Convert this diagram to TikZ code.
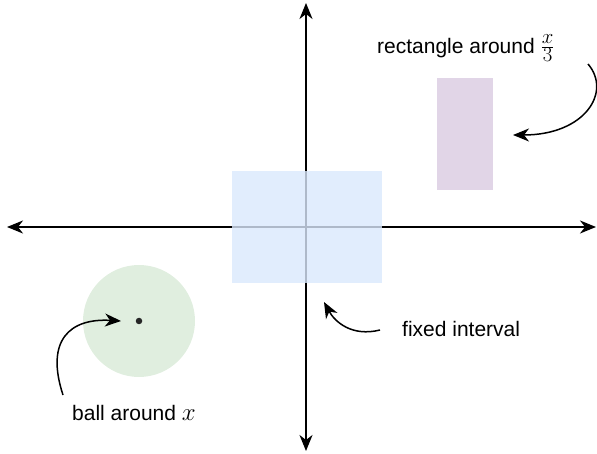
\documentclass[tikz,border=0pt]{standalone}
\usepackage{fontspec}
\setmainfont{Liberation Sans}
\usetikzlibrary{arrows.meta}
\definecolor{bluefill}{HTML}{DAE8FC}
\definecolor{purplefill}{HTML}{E1D5E7}
\definecolor{greenfill}{HTML}{D5E8D4}
\begin{document}
\begin{tikzpicture}[x=1pt,y=-1pt,
  axis/.style={line width=1.8pt,{Stealth[length=16pt,width=13pt,inset=5pt]}-{Stealth[length=16pt,width=13pt,inset=5pt]}},
  callout/.style={line width=1.5pt,-{Stealth[length=16pt,width=13pt,inset=5pt]}},
  lbl/.style={inner sep=0pt,anchor=west,font=\fontsize{21}{25}\selectfont},
  region/.style={draw=none,fill opacity=0.8}]
\useasboundingbox (0,0) rectangle (597,454);
% axes
\coordinate (xl) at (7,227);
\coordinate (xr) at (596,227);
\coordinate (yt) at (306,3);
\coordinate (yb) at (306,451);
\draw[axis] (xl) -- (xr);
\draw[axis] (yt) -- (yb);
% regions
\node[region,fill=bluefill,minimum width=150pt,minimum height=112pt,anchor=north west] (interval) at (232,171) {};
\node[region,fill=purplefill,fill opacity=1,minimum width=56pt,minimum height=112pt,anchor=north west] (rect) at (437,78) {};
\node[region,circle,fill=greenfill,fill opacity=0.75,minimum size=112pt] (ball) at (139,321) {};
\node[circle,fill=black!85,inner sep=0pt,minimum size=6.5pt] (dot) at (139,321) {};
% labels
\node[lbl] (lrect) at (377,48) {rectangle around {\fontsize{28}{30}\selectfont$\frac{x}{3}$}};
\node[lbl] (lfixed) at (402,329) {fixed interval};
\node[lbl] (lball) at (72,413) {ball around {\fontsize{23}{25}\selectfont$x$}};
% callouts
\coordinate (s1) at (588,64);
\coordinate (t1) at (513,135);
\draw[callout] (s1) .. controls (612,92) and (585,135) .. (t1);
\coordinate (s2) at (380,330);
\coordinate (t2) at (324,302);
\draw[callout] (s2) .. controls (352,337) and (335,322) .. (t2);
\coordinate (s3) at (63,395);
\coordinate (t3) at (121,321);
\draw[callout] (s3) .. controls (45,340) and (70,318) .. (t3);
\end{tikzpicture}
\end{document}
